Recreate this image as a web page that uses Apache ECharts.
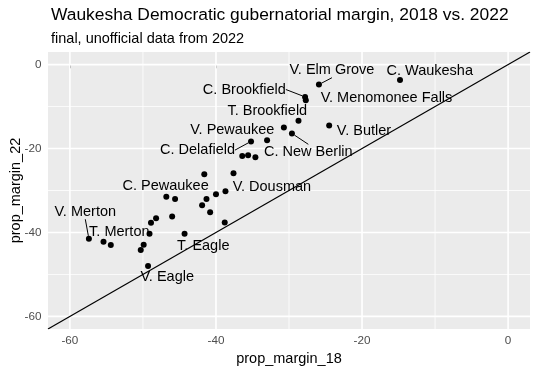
<!DOCTYPE html>
<html>
<head>
<meta charset="utf-8">
<script src="https://cdn.jsdelivr.net/npm/echarts@6/dist/echarts.min.js"></script>
<style>
html,body{margin:0;padding:0;background:#fff;}
#chart{width:538px;height:372px;}
</style>
</head>
<body>
<div id="chart"></div>
<script>
// ---- data ----
const names = [
  'V. Merton','T. Merton','','','','','','','V. Eagle',
  'C. Pewaukee','','','T. Eagle','','','','V. Dousman','','','','',
  'V. Elm Grove','C. Brookfield','V. Menomonee Falls','T. Brookfield','V. Pewaukee',
  'C. New Berlin','V. Butler','','C. Delafield','','','','C. Waukesha'
];
const margin18 = [
  -57.4,-55.4,-54.4,-50.3,-49.9,-49.1,-48.9,-48.2,-49.3,
  -46.8,-45.6,-46.0,-44.3,-41.6,-37.6,-40.0,-38.7,-41.3,-41.9,-40.8,-38.8,
  -25.9,-27.8,-27.7,-28.7,-30.7,
  -29.6,-24.5,-33.0,-35.2,-36.4,-35.6,-34.6,-14.8
];
const margin22 = [
  -41.5,-42.2,-43.0,-44.2,-42.9,-40.3,-37.7,-36.6,-48.0,
  -31.5,-32.0,-36.2,-40.3,-26.1,-25.9,-30.9,-30.2,-32.0,-33.5,-35.2,-37.6,
  -4.75,-7.7,-8.5,-13.4,-15.0,
  -16.4,-14.5,-18.0,-18.3,-21.8,-21.6,-22.1,-3.7
];
const majorBreaks = [-60, -40, -20, 0];
const minorBreaks = [-50, -30, -10];
const axisMin = -63, axisMax = 3;

// ---- label placement (pixel offsets from point) ----
const labelOffsets = {
  'V. Elm Grove': [13, -14.3, true],
  'C. Waukesha': [29.7, -9.3, false],
  'C. Brookfield': [-60.7, -7.4, true],
  'V. Menomonee Falls': [80.7, -2.3, false],
  'T. Brookfield': [-31.2, -10, false],
  'V. Pewaukee': [-51.6, 2.7, false],
  'C. Delafield': [-53.5, 8.7, true],
  'C. New Berlin': [16.4, 18.4, true],
  'V. Butler': [34.8, 6, false],
  'C. Pewaukee': [-0.7, -10.3, false],
  'V. Dousman': [46.4, -4.3, false],
  'V. Merton': [-3.6, -27, true],
  'T. Merton': [15.8, -9.4, false],
  'T. Eagle': [18.7, 12.3, false],
  'V. Eagle': [19.2, 11.4, false]
};

const FONT = "'Liberation Sans', Arial, Helvetica, sans-serif";

const pointData = margin18.map((x, i) => {
  const nm = names[i];
  const off = labelOffsets[nm];
  return {
    name: nm,
    value: [x, margin22[i]],
    label: { show: !!nm },
    labelLine: { show: !!(off && off[2]) }
  };
});

const gridData = [];
majorBreaks.forEach(v => { gridData.push([0, v, 1]); gridData.push([1, v, 1]); });
minorBreaks.forEach(v => { gridData.push([0, v, 0]); gridData.push([1, v, 0]); });

const chart = echarts.init(document.getElementById('chart'), null, {renderer: 'canvas'});
chart.setOption({
  animation: false,
  textStyle: { fontFamily: FONT },
  title: [
    { text: 'Waukesha Democratic gubernatorial margin, 2018 vs. 2022', left: 46, top: 2,
      textStyle: { fontSize: 17.4, fontWeight: 'normal', color: '#000', fontFamily: FONT } },
    { text: 'final, unofficial data from 2022', left: 46, top: 26,
      textStyle: { fontSize: 14.5, fontWeight: 'normal', color: '#000', fontFamily: FONT } }
  ],
  grid: { left: 48, right: 8, top: 52, bottom: 43, show: true, backgroundColor: '#EBEBEB', borderWidth: 0, outerBoundsMode: 'none', containLabel: false },
  xAxis: {
    type: 'value', min: axisMin, max: axisMax,
    splitLine: { show: false }, axisLine: { show: false },
    axisTick: { show: true, customValues: majorBreaks, length: 3.7, lineStyle: { color: '#333', width: 1 } },
    axisLabel: { customValues: majorBreaks, color: '#4D4D4D', fontSize: 11.7, margin: 6, fontFamily: FONT },
    name: 'prop_margin_18', nameLocation: 'middle', nameGap: 12,
    nameTextStyle: { fontSize: 14.5, color: '#000', fontFamily: FONT, verticalAlign: 'top' }
  },
  yAxis: {
    type: 'value', min: axisMin, max: axisMax,
    splitLine: { show: false }, axisLine: { show: false },
    axisTick: { show: true, customValues: majorBreaks, length: 3.7, lineStyle: { color: '#333', width: 1 } },
    axisLabel: { customValues: majorBreaks, color: '#4D4D4D', fontSize: 11.7, margin: 6.5, fontFamily: FONT },
    name: 'prop_margin_22', nameLocation: 'middle', nameGap: 25, nameMoveOverlap: false,
    nameTextStyle: { fontSize: 14.5, color: '#000', fontFamily: FONT }
  },
  series: [
    {
      type: 'custom', z: 1, silent: true,
      data: gridData,
      renderItem: function (params, api) {
        const axis = api.value(0), v = api.value(1), major = api.value(2);
        let p1, p2;
        if (axis === 0) { p1 = api.coord([v, axisMin]); p2 = api.coord([v, axisMax]); }
        else { p1 = api.coord([axisMin, v]); p2 = api.coord([axisMax, v]); }
        return {
          type: 'line',
          shape: { x1: p1[0], y1: p1[1], x2: p2[0], y2: p2[1] },
          style: { stroke: '#FFFFFF', lineWidth: major ? 1.6 : 0.8 }
        };
      }
    },
    {
      type: 'scatter', z: 3,
      symbol: 'circle', symbolSize: 6,
      itemStyle: { color: '#000', opacity: 1 },
      data: pointData,
      label: {
        show: true, position: 'inside', formatter: '{b}',
        color: '#000', fontSize: 14.5, fontFamily: FONT
      },
      labelLine: { show: false, lineStyle: { color: '#000', width: 1 } },
      labelLayout: function (params) {
        const nm = names[params.dataIndex];
        const off = labelOffsets[nm];
        if (!off) return {};
        return { dx: off[0], dy: off[1] };
      }
    },
    {
      type: 'line', z: 6, silent: true,
      data: [[axisMin, axisMin], [axisMax, axisMax]],
      symbol: 'none',
      lineStyle: { color: '#000', width: 1.2 }
    }
  ]
});
</script>
</body>
</html>
